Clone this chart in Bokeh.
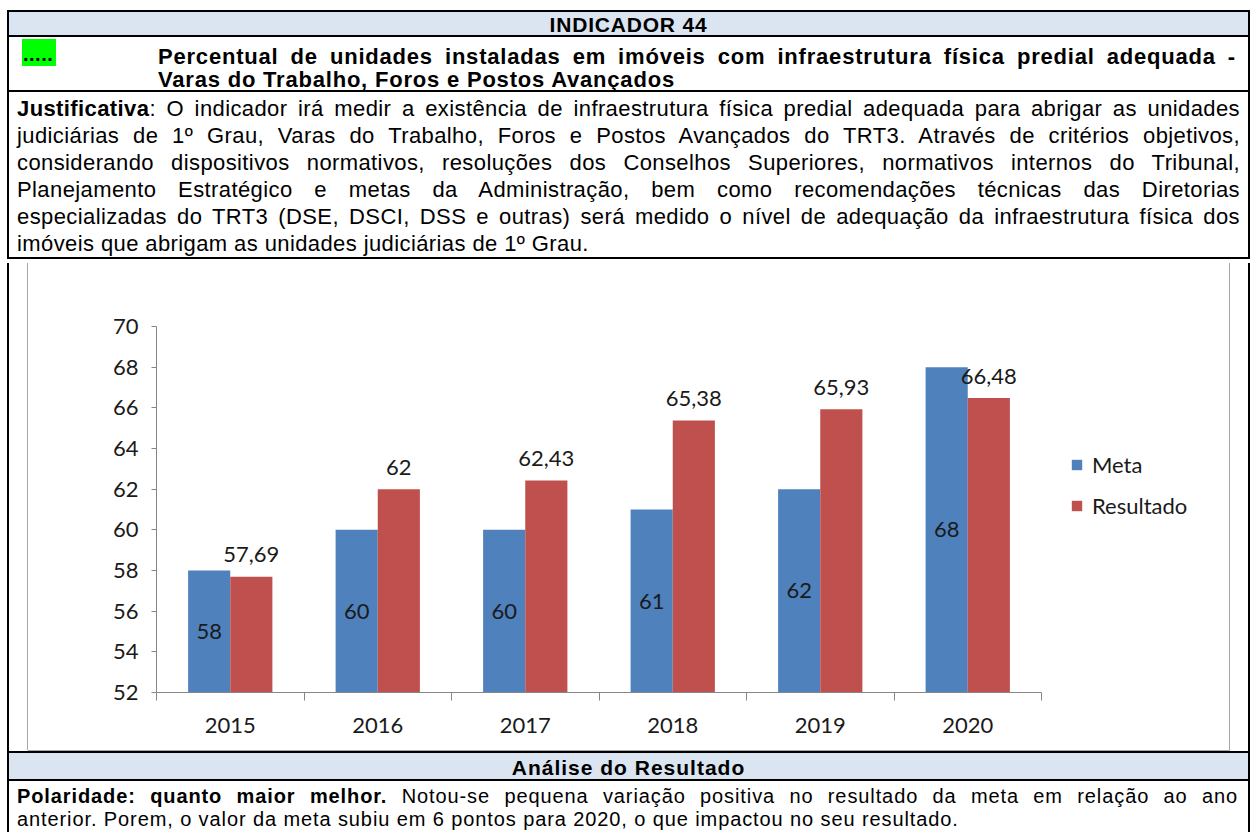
from bokeh.plotting import figure
from bokeh.models import Div, Range1d, FixedTicker, Legend, LegendItem, ColumnDataSource
from bokeh.layouts import column, row
from bokeh.embed import file_html
from bokeh.resources import INLINE
from bokeh.core.properties import value

# ---------------- data ----------------
years = ["2015", "2016", "2017", "2018", "2019", "2020"]
meta = [58, 60, 60, 61, 62, 68]
resultado = [57.69, 62, 62.43, 65.38, 65.93, 66.48]
meta_labels = ["58", "60", "60", "61", "62", "68"]
resultado_labels = ["57,69", "62", "62,43", "65,38", "65,93", "66,48"]
series_names = ["Meta", "Resultado"]
y_ticks = [52, 54, 56, 58, 60, 62, 64, 66, 68, 70]
y_min, y_max = 52, 70

BLUE = "#4F81BD"
RED = "#C0504D"
AXIS = "#868686"
FRAME = "#a6a6a6"
HDR_BG = "#DBE5F1"
FONT = "'Liberation Sans', Arial, sans-serif"
TXT = "#1a1a1a"

# ---------------- chart ----------------
n = len(years)
bw = 1 / 3.5
xc = [i + 0.5 for i in range(n)]
src = ColumnDataSource(dict(
    xm=[x - bw / 2 for x in xc],
    xr=[x + bw / 2 for x in xc],
    meta=meta,
    res=resultado,
    mid=[(y_min + v) / 2 for v in meta],
    ml=meta_labels,
    rl=resultado_labels,
))

FIG_W, FIG_H = 1201, 487
BORDER_L = 128
AXIS_PX = 885                     # pixel length of the category axis
FRAME_W = FIG_W - BORDER_L        # frame extends to the right edge (room for legend)
x_end = n * FRAME_W / AXIS_PX

p = figure(width=FIG_W, height=FIG_H, x_range=Range1d(0, x_end), y_range=Range1d(y_min, y_max),
           output_backend="svg", toolbar_location=None,
           min_border_left=BORDER_L, min_border_right=0, min_border_top=63, min_border_bottom=58,
           outline_line_color=None, background_fill_color="white", border_fill_color="white")
p.xgrid.visible = False
p.ygrid.visible = False

r_meta = p.vbar(x="xm", top="meta", bottom=y_min, width=bw, source=src,
                fill_color=BLUE, line_color=None)
r_res = p.vbar(x="xr", top="res", bottom=y_min, width=bw, source=src,
               fill_color=RED, line_color=None)

p.text(x="xm", y="mid", text="ml", source=src, text_font=value("Lato"),
       text_font_size="22px", text_align="center", text_baseline="middle",
       text_color=TXT)
p.text(x="xr", y="res", text="rl", source=src, text_font=value("Lato"),
       text_font_size="22px", text_align="center", text_baseline="alphabetic",
       y_offset=-22, text_color=TXT)

# y axis
ya = p.yaxis[0]
ya.ticker = FixedTicker(ticks=y_ticks)
ya.axis_line_color = AXIS
ya.major_tick_line_color = AXIS
ya.major_tick_out = 5
ya.major_tick_in = 0
ya.minor_tick_out = 0
ya.minor_tick_in = 0
ya.major_label_text_font = "Lato"
ya.major_label_text_font_size = "22px"
ya.major_label_text_color = TXT
ya.major_label_standoff = 13

# x axis: labels at category centres, tick marks at category boundaries
xa = p.xaxis[0]
xa.ticker = FixedTicker(ticks=xc, minor_ticks=list(range(n + 1)))
xa.major_label_overrides = {x: y for x, y in zip(xc, years)}
xa.bounds = (0, n)
xa.axis_line_color = AXIS
xa.major_tick_out = 0
xa.major_tick_in = 0
xa.minor_tick_line_color = AXIS
xa.minor_tick_out = 8
xa.minor_tick_in = 0
xa.major_label_text_font = "Lato"
xa.major_label_text_font_size = "22px"
xa.major_label_text_color = TXT
xa.major_label_standoff = 17

legend = Legend(items=[LegendItem(label=series_names[0], renderers=[r_meta]),
                       LegendItem(label=series_names[1], renderers=[r_res])],
                location=(914, 173), orientation="vertical",
                glyph_width=13, glyph_height=13, label_standoff=9, spacing=14,
                padding=0, margin=0, border_line_color=None, background_fill_alpha=0,
                label_text_font="Lato", label_text_font_size="22px",
                label_text_color=TXT)
p.add_layout(legend)

# ---------------- text blocks ----------------
J = "text-align:justify;text-align-last:justify;white-space:nowrap"

top_html = f"""
<div style="box-sizing:border-box;width:1250px;height:263px;padding:10px 0 0 7px;overflow:hidden;
            font-family:{FONT};color:#000">
 <div style="width:1243px;box-sizing:border-box;border:2px solid #000">
  <div style="height:25px;background:{HDR_BG};border-bottom:2px solid #000;text-align:center;
              font-weight:bold;font-size:21px;letter-spacing:0.8px;line-height:25px">INDICADOR 44</div>
  <div style="height:55px;border-bottom:2px solid #000;position:relative">
   <div style="position:absolute;left:13px;top:2px;width:34px;height:27px;background:#00FF00;
               font-weight:bold;font-size:20px;line-height:30px;padding-left:1px;box-sizing:border-box;
               letter-spacing:0.5px">.....</div>
   <div style="position:absolute;left:149px;right:12px;top:8px;font-weight:bold;font-size:22px;
               letter-spacing:0.8px;line-height:23px">
    <div style="{J}">Percentual de unidades instaladas em imóveis com infraestrutura física predial adequada -</div>
    <div>Varas do Trabalho, Foros e Postos Avançados</div>
   </div>
  </div>
  <div style="height:165px;box-sizing:border-box;padding:3px 8px 0 8px;font-size:22px;letter-spacing:0.4px;
              line-height:27px">
   <div style="{J}"><b>Justificativa</b>: O indicador irá medir a existência de infraestrutura física predial adequada para abrigar as unidades</div>
   <div style="{J}">judiciárias de 1º Grau, Varas do Trabalho, Foros e Postos Avançados do TRT3. Através de critérios objetivos,</div>
   <div style="{J}">considerando dispositivos normativos, resoluções dos Conselhos Superiores, normativos internos do Tribunal,</div>
   <div style="{J}">Planejamento Estratégico e metas da Administração, bem como recomendações técnicas das Diretorias</div>
   <div style="{J}">especializadas do TRT3 (DSE, DSCI, DSS e outras) será medido o nível de adequação da infraestrutura física dos</div>
   <div>imóveis que abrigam as unidades judiciárias de 1º Grau.</div>
  </div>
 </div>
</div>
"""

left_html = f"""<div style="box-sizing:border-box;width:21px;height:{FIG_H}px;margin-left:7px;
 border-left:2px solid #000;border-right:1px solid {FRAME};background:#fff"></div>"""
right_html = f"""<div style="box-sizing:border-box;width:21px;height:{FIG_H}px;border-left:1px solid {FRAME};
 border-right:2px solid #000;background:#fff"></div>"""

bottom_html = f"""
<div style="width:1250px;height:82px;padding-left:7px;box-sizing:border-box;overflow:hidden">
 <div style="box-sizing:border-box;width:1243px;height:82px;border-left:2px solid #000;border-right:2px solid #000;
             font-family:{FONT};color:#000">
  <div style="height:1px;width:1202px;margin-left:19px;background:{FRAME}"></div>
  <div style="height:30px;border-top:2px solid #000;border-bottom:2px solid #000;background:{HDR_BG};
              text-align:center;font-weight:bold;font-size:21px;letter-spacing:1px;line-height:30px">Análise do Resultado</div>
  <div style="padding:4px 10px 0 8px;font-size:20px;letter-spacing:0.9px;line-height:23px">
   <div style="{J}"><b>Polaridade: quanto maior melhor.</b> Notou-se pequena variação positiva no resultado da meta em relação ao ano</div>
   <div style="white-space:nowrap">anterior. Porem, o valor da meta subiu em 6 pontos para 2020, o que impactou no seu resultado.</div>
  </div>
 </div>
</div>
"""

top_div = Div(text=top_html, width=1250, height=263, margin=0)
left_div = Div(text=left_html, width=28, height=FIG_H, margin=0)
right_div = Div(text=right_html, width=21, height=FIG_H, margin=0)
bottom_div = Div(text=bottom_html, width=1250, height=82, margin=0)

layout = column(top_div, row(left_div, p, right_div, spacing=0), bottom_div, spacing=0)

with open("out.html", "w") as f:
    f.write(file_html(layout, INLINE))
